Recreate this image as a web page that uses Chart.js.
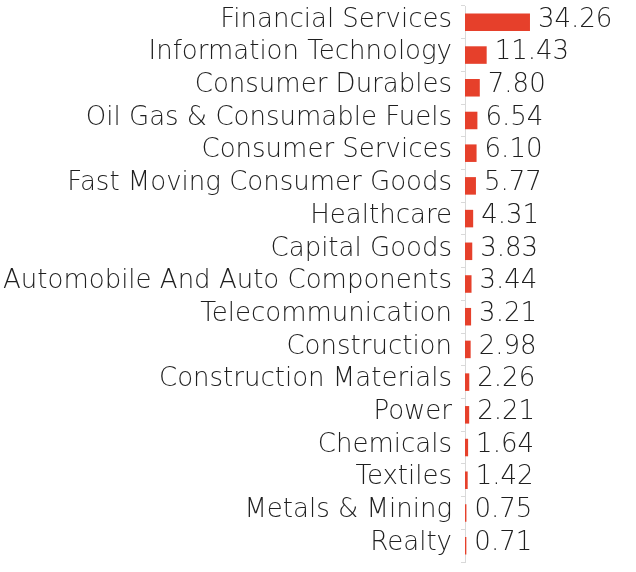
<!DOCTYPE html>
<html>
<head>
<meta charset="utf-8">
<script src="https://cdn.jsdelivr.net/npm/chart.js@4"></script>
<style>
html,body{margin:0;padding:0;background:#fff;}
#wrap{width:636px;height:572px;}
</style>
</head>
<body>
<div id="wrap"><canvas id="c" width="636" height="572"></canvas></div>
<script>
const categories = ["Financial Services","Information Technology","Consumer Durables","Oil Gas & Consumable Fuels","Consumer Services","Fast Moving Consumer Goods","Healthcare","Capital Goods","Automobile And Auto Components","Telecommunication","Construction","Construction Materials","Power","Chemicals","Textiles","Metals & Mining","Realty"];
const weights = [34.26,11.43,7.80,6.54,6.10,5.77,4.31,3.83,3.44,3.21,2.98,2.26,2.21,1.64,1.42,0.75,0.71];

const FONT = "'DejaVu Sans'";
const FSIZE = 26;
const FWEIGHT = 200;
const TEXT_LIFT = 2.5;

const valueLabels = {
  id: 'valueLabels',
  afterDatasetsDraw(chart) {
    const ctx = chart.ctx;
    const meta = chart.getDatasetMeta(0);
    ctx.save();
    ctx.font = FWEIGHT + " " + FSIZE + "px " + FONT;
    ctx.fillStyle = "#1f1f1f";
    ctx.textBaseline = "middle";
    ctx.textAlign = "left";
    meta.data.forEach((el, i) => {
      ctx.fillText(weights[i].toFixed(2), el.x + 8, el.y - TEXT_LIFT);
    });
    ctx.restore();
  }
};

new Chart(document.getElementById('c'), {
  type: 'bar',
  data: {
    labels: categories,
    datasets: [{
      data: weights,
      backgroundColor: '#e6402b',
      borderWidth: 0,
      categoryPercentage: 0.8,
      barPercentage: 0.67
    }]
  },
  options: {
    indexAxis: 'y',
    responsive: false,
    animation: false,
    devicePixelRatio: 1,
    layout: { padding: { top: 6, bottom: 10, right: 6, left: 0 } },
    plugins: { legend: { display: false }, tooltip: { enabled: false } },
    scales: {
      x: { display: false, min: 0, max: 87 },
      y: {
        afterFit(scale) { scale.width = 465; scale.paddingTop = 0; scale.paddingBottom = 0; },
        grid: { display: true, drawOnChartArea: false, tickLength: 4, color: '#d9d9d9', offset: true },
        border: { display: true, color: '#d9d9d9', width: 1 },
        ticks: {
          color: '#1f1f1f',
          font: { family: FONT, size: FSIZE, weight: FWEIGHT, lineHeight: (2 * TEXT_LIFT) + 'px' },
          padding: 9,
          autoSkip: false,
          callback: function (value) { return [this.getLabelForValue(value), '']; }
        }
      }
    }
  },
  plugins: [valueLabels]
});
</script>
</body>
</html>
